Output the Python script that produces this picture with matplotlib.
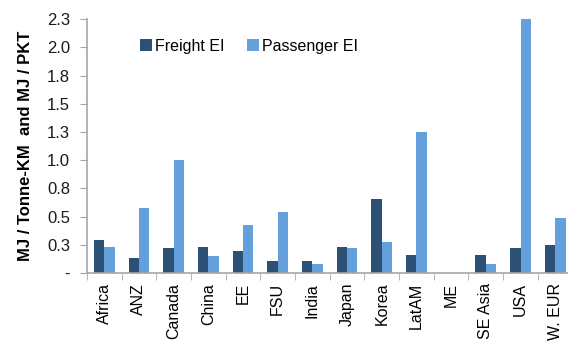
import matplotlib
matplotlib.use('Agg')
import matplotlib.pyplot as plt
import numpy as np

regions = ["Africa", "ANZ", "Canada", "China", "EE", "FSU", "India",
           "Japan", "Korea", "LatAM", "ME", "SE Asia", "USA", "W. EUR"]
freight_ei = [0.29, 0.135, 0.22, 0.233, 0.195, 0.106, 0.106,
              0.233, 0.653, 0.162, 0.0, 0.162, 0.219, 0.245]
passenger_ei = [0.233, 0.58, 1.0, 0.15, 0.43, 0.54, 0.077,
                0.219, 0.275, 1.25, 0.0, 0.08, 2.3, 0.484]
y_ticks = [0, 0.25, 0.5, 0.75, 1.0, 1.25, 1.5, 1.75, 2.0, 2.25]
y_labels = ["-", "0.3", "0.5", "0.8", "1.0", "1.3", "1.5", "1.8", "2.0", "2.3"]

plt.rcParams['font.family'] = ['Liberation Sans', 'DejaVu Sans']

fig = plt.figure(figsize=(5.68, 3.41), dpi=100)
ax = fig.add_axes([0.153, 0.199, 0.855, 0.745])

x = np.arange(len(regions))
w = 0.3
ax.bar(x - w / 2, freight_ei, w, color="#2d5075", label="Freight EI")
ax.bar(x + w / 2, passenger_ei, w, color="#64a1dc", label="Passenger EI")

ax.set_xlim(-0.5, len(regions) - 0.5)
ax.set_ylim(0, 2.25)
ax.set_yticks(y_ticks)
ax.set_yticklabels(y_labels)
ax.set_xticks(x)
ax.set_xticklabels(regions, rotation=90)
ax.set_xticks(np.arange(len(regions) + 1) - 0.5, minor=True)

for s in ["top", "right"]:
    ax.spines[s].set_visible(False)
for s in ["left", "bottom"]:
    ax.spines[s].set_color("#a6a6a6")
    ax.spines[s].set_linewidth(1.2)

ax.tick_params(axis='y', direction='out', length=5, color="#a6a6a6",
               labelsize=12, pad=7, labelcolor="#1a1a1a")
ax.tick_params(axis='x', which='major', length=0, labelsize=11.5, pad=7)
ax.tick_params(axis='x', which='minor', direction='out', length=5, color="#a6a6a6")

ax.set_ylabel("MJ / Tonne-KM  and MJ / PKT", fontsize=12, fontweight="bold", labelpad=10)

ax.legend(loc="upper left", bbox_to_anchor=(0.08, 0.98), ncol=2, frameon=False,
          fontsize=11.5, handlelength=0.75, handleheight=0.75, handletextpad=0.2,
          columnspacing=1.4)

fig.savefig("out.png", dpi=100)
